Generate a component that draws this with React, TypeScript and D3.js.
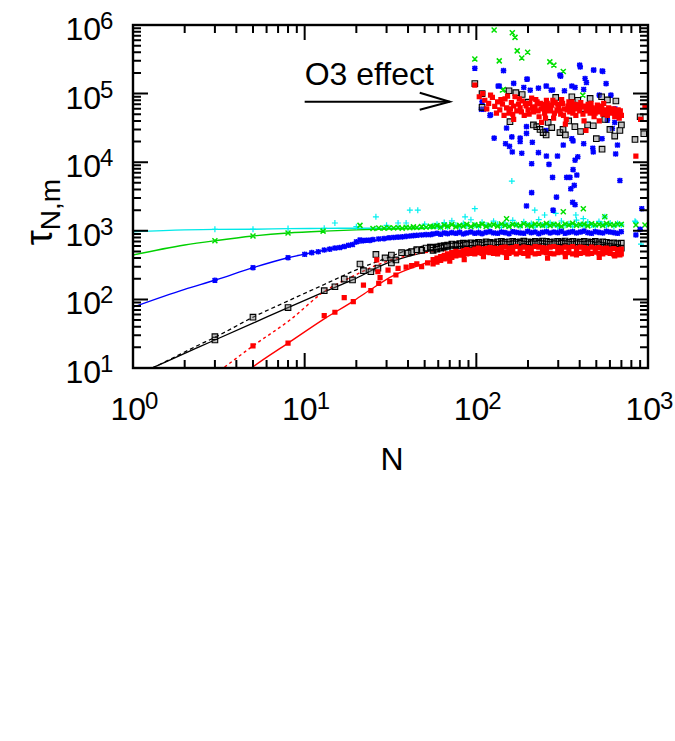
import * as d3 from 'd3'

type P = [number, number]

const xTickExps = [0, 1, 2, 3]
const yTickExps = [1, 2, 3, 4, 5, 6]

// fitted curves (N, tau)
const cyanCurve: P[] = [[1, 970], [2, 1030], [3, 1050], [5, 1055], [8, 1075], [13, 1085], [20, 1090], [40, 1095], [60, 1100]]
const greenCurve: P[] = [[1, 444], [2, 620], [3, 717], [5, 840], [8, 930], [13, 990], [20, 1030], [30, 1060], [50, 1080]]
const blueCurve: P[] = [[1, 77], [2, 140], [3, 190], [5, 290], [8, 405], [13, 520], [20, 650], [30, 760], [50, 860], [80, 910]]
const blackCurve: P[] = [[1, 7.6], [1.29, 10], [2.45, 20.5], [3, 25.6], [5, 45], [8, 76], [13, 129], [19, 192], [30, 335], [47, 470], [60, 540], [80, 590], [100, 610]]
const blackDashed: P[] = [[1, 7.6], [1.29, 10], [2.45, 22], [3, 28], [5, 55], [8, 95], [13, 165], [20, 270], [30, 400], [43, 556], [60, 640], [80, 670]]
const redCurve: P[] = [[4, 6.8], [5, 10.4], [8, 23], [13, 52], [19, 93], [24, 137], [32.6, 220], [47, 317], [60, 390], [75, 440], [100, 470]]
const redDotted: P[] = [[3, 8.1], [3.43, 10.4], [5, 21], [8.2, 50], [13, 130], [20, 230], [25, 300], [35, 400], [50, 480], [70, 520]]

// plateau band: shared N values
const bandN = [56, 59, 62, 65, 68, 72, 76, 80, 84, 88, 93, 98, 103, 108, 114, 120, 126, 133, 140, 147, 155, 163, 171, 180, 189, 199, 209, 220, 231, 243, 256, 269, 283, 298, 313, 329, 346, 364, 383, 403, 424, 446, 469, 493, 518, 545, 573, 602, 633, 665, 699]
const cyanBand = [1180, 1250, 1120, 1320, 1150, 1400, 1210, 1130, 1280, 1170, 1450, 1200, 1140, 1330, 1220, 1160, 1380, 1250, 1120, 1300, 1190, 1420, 1240, 1150, 1350, 1200, 1280, 1130, 1460, 1220, 1170, 1310, 1250, 1140, 1390, 1200, 1270, 1160, 1430, 1230, 1180, 1340, 1210, 1150, 1370, 1250, 1190, 1300, 1160, 1280, 1220]
const greenBand = [1150, 1190, 1130, 1210, 1160, 1230, 1140, 1200, 1170, 1240, 1150, 1220, 1190, 1250, 1160, 1210, 1230, 1170, 1260, 1200, 1160, 1240, 1220, 1190, 1270, 1210, 1170, 1250, 1230, 1200, 1280, 1190, 1240, 1220, 1160, 1260, 1210, 1290, 1200, 1230, 1250, 1180, 1270, 1220, 1240, 1200, 1280, 1230, 1210, 1260, 1240]
const blueBand = [900, 920, 890, 930, 910, 940, 920, 950, 900, 930, 960, 920, 940, 910, 950, 970, 930, 920, 960, 940, 910, 970, 950, 930, 920, 980, 940, 960, 910, 950, 970, 930, 960, 940, 980, 920, 950, 970, 930, 960, 990, 940, 920, 970, 950, 930, 980, 960, 940, 920, 970]
const blackBandA = [560, 580, 600, 610, 620, 640, 630, 650, 660, 650, 670, 660, 680, 670, 690, 680, 670, 690, 700, 680, 690, 700, 680, 690, 710, 690, 680, 700, 690, 710, 700, 680, 690, 700, 690, 710, 680, 700, 690, 680, 700, 690, 680, 700, 670, 690, 680, 660, 670, 650, 660]
const blackBandB = [520, 540, 560, 580, 590, 600, 610, 600, 620, 630, 620, 640, 630, 620, 640, 650, 640, 630, 650, 640, 630, 650, 640, 660, 640, 630, 650, 640, 660, 650, 640, 630, 650, 640, 660, 650, 640, 630, 650, 640, 630, 650, 640, 620, 630, 610, 600, 590, 580, 570, 560]
const redBandA = [380, 400, 420, 440, 460, 480, 500, 490, 510, 530, 520, 540, 560, 540, 550, 570, 560, 550, 570, 580, 560, 570, 590, 560, 580, 570, 560, 590, 580, 570, 560, 580, 590, 570, 560, 580, 570, 590, 560, 580, 570, 550, 580, 560, 570, 550, 560, 540, 550, 530, 540]
const redBandB = [330, 350, 370, 390, 400, 410, 430, 440, 450, 460, 470, 460, 480, 470, 490, 480, 470, 460, 490, 480, 470, 490, 460, 480, 470, 490, 480, 460, 470, 490, 480, 470, 460, 480, 490, 470, 480, 460, 490, 470, 480, 460, 470, 490, 470, 460, 480, 470, 450, 470, 460]

// individual points (N, tau)
const cyanPts: P[] = [[3, 1052], [5, 1052], [8, 1080], [13, 1090], [15, 1300], [20, 1150], [26, 1600], [30, 1200], [35, 1300], [39, 1300], [41, 2000], [45.6, 2000], [50, 1250], [86, 1600], [98, 2100], [161, 5300], [219, 2000], [250, 1700], [290, 1800], [380, 1700], [420, 1500], [560, 1600], [840, 1380], [850, 1330], [910, 640]]
const greenPts: P[] = [[3, 717], [5, 840], [8, 930], [12.8, 990], [21, 1200], [25, 1080], [27, 1100], [29, 1090], [31, 1110], [33, 1100], [35, 1120], [37, 1090], [39, 1130], [41, 1110], [43, 1140], [45, 1120], [48, 1150], [51, 1130], [54, 1160], [150, 1500], [321, 1900], [420, 2100], [560, 1600], [850, 1215], [960, 1215],
  [127, 845000], [162, 770000], [168, 660000], [173, 420000], [199, 400000], [184, 330000], [98, 320000], [136, 300000], [268, 290000], [283, 260000], [321, 210000], [144, 115000], [142, 113000], [417, 95000]]
const bluePts: P[] = [[3, 190], [5, 290], [8, 405], [10, 455], [11, 480], [12, 495], [13, 525], [14, 540], [15, 560], [16, 570], [17, 590], [18, 615], [19, 630], [20, 690], [21, 735], [22, 720], [23, 730], [24, 725], [25, 745], [27, 760], [29, 770], [31, 790], [33, 800], [35, 810], [37, 815], [39, 830], [41, 840], [43, 850], [45, 860], [48, 870], [51, 880], [54, 880], [850, 870], [900, 1050], [920, 2100]]
const blueCloud: P[] = [[98, 234000], [144, 216000], [403, 245000], [482, 220000], [541, 214000], [307, 186000], [197, 162000], [430, 166000], [438, 145000], [165, 141000], [136, 129000], [189, 123000], [206, 112000], [230, 120000], [256, 129000], [273, 112000], [326, 110000], [376, 123000], [422, 115000], [520, 95000], [608, 95000], [108, 76000], [110, 59000], [121, 49000], [643, 60000], [620, 31000],
  [127, 22400], [148, 18600], [156, 17000], [162, 14100], [184, 13500], [161, 23400], [180, 22400], [180, 20000], [196, 26300], [212, 19500], [230, 13800], [256, 12300], [297, 12300], [321, 17800], [366, 20400], [422, 18600], [480, 14100], [390, 12000], [376, 10700], [648, 13200], [664, 17800],
  [210, 9500], [265, 9300], [278, 6000], [336, 6000], [366, 7800], [372, 4600], [355, 4100], [686, 5400], [210, 3600], [293, 3100], [196, 2300], [280, 2000], [364, 2600], [376, 2400], [385, 6500], [351, 6000],
  [134, 129000], [198, 163000], [255, 129000], [278, 113000], [360, 129000], [570, 140000], [400, 260000], [483, 221000], [545, 210000], [310, 180000], [107, 59000], [120, 48000], [150, 31500], [196, 33000], [255, 29000], [360, 22000], [477, 16000], [540, 22000], [580, 41000], [640, 38000]]
const blackPts: P[] = [[3, 28.6], [3, 25.6], [5, 55], [8, 76], [13, 134], [15, 153], [17, 198], [19, 192], [21, 328], [22, 262], [24.3, 253], [26, 452], [26.7, 286], [29.4, 402], [32, 340], [32, 443], [34, 376], [36.7, 480], [40, 475], [42, 497], [45, 530], [48, 520], [51, 560], [54, 580]]
const blackCloud: P[] = [[98, 140000], [108, 100000], [108, 63000], [155, 110000], [170, 103000], [185, 97000], [157, 39000], [200, 75000], [215, 35000], [225, 33000], [235, 30000], [245, 27000], [255, 25000], [262, 38000], [275, 32000], [290, 88000], [307, 27000], [320, 30000], [330, 25000], [345, 40000], [360, 90000], [375, 33000], [390, 80000], [405, 28000], [420, 60000], [445, 35000], [460, 85000], [480, 34000], [500, 22000], [537, 90000], [540, 15500], [560, 42000], [580, 81000], [600, 30000], [650, 78000], [640, 24000], [660, 55000], [686, 29000], [700, 35000], [840, 21500], [900, 46000], [945, 26000]]
const redPts: P[] = [[5, 21], [8, 23], [13, 58], [15, 65], [17, 106], [19.2, 93], [22, 162], [24.3, 134], [26.3, 376], [26.7, 253], [27, 171], [27.5, 207], [30.6, 268], [31.3, 182], [34, 227], [35, 283], [39, 295], [42, 310], [45, 330], [48, 300], [52, 340],
  [70, 360], [85, 380], [110, 420], [150, 410], [200, 430], [260, 400], [330, 420], [383, 444], [520, 410], [640, 430], [686, 444]]
const redCloud: P[] = [[98, 133000], [109, 100000], [112, 80000], [118, 72000], [124, 88000], [128, 65000], [133, 76000], [137, 58000], [142, 70000], [147, 84000], [150, 62000], [155, 52000], [160, 74000], [165, 66000], [168, 90000], [172, 56000], [176, 70000], [180, 62000], [185, 78000], [190, 48000], [195, 66000], [200, 58000], [205, 72000], [210, 86000], [215, 54000], [220, 64000], [226, 76000], [232, 46000], [238, 60000], [244, 70000], [250, 52000], [256, 80000], [262, 62000], [268, 56000], [275, 68000], [282, 44000], [288, 74000], [295, 58000], [302, 64000], [310, 50000], [318, 72000], [326, 60000], [334, 42000], [342, 66000], [350, 54000], [360, 76000], [370, 60000], [380, 48000], [390, 68000], [400, 56000], [412, 64000], [424, 40000], [436, 58000], [448, 70000], [460, 52000], [472, 62000], [485, 46000], [500, 60000], [515, 54000], [530, 66000], [545, 50000], [560, 58000], [580, 48000], [600, 56000], [620, 52000], [640, 46000], [660, 50000], [680, 44000], [700, 48000], [165, 42000], [240, 38000], [330, 36000], [435, 29000], [520, 40000], [850, 12300], [906, 42000], [960, 66000]]
const redCloud2: P[] = [[104, 90000], [115, 60000], [121, 95000], [131, 52000], [139, 82000], [145, 48000], [152, 92000], [158, 60000], [163, 50000], [178, 84000], [183, 54000], [193, 72000], [203, 50000], [212, 62000], [222, 82000], [229, 56000], [236, 72000], [247, 62000], [253, 44000], [259, 72000], [271, 62000], [279, 80000], [285, 52000], [298, 70000], [306, 56000], [314, 82000], [322, 48000], [338, 58000], [346, 76000], [355, 64000], [365, 52000], [375, 70000], [395, 60000], [406, 74000], [418, 50000], [430, 66000], [442, 56000], [454, 62000], [466, 72000], [478, 56000], [492, 52000], [507, 68000], [522, 58000], [538, 62000], [552, 72000], [570, 54000], [590, 62000], [610, 58000], [630, 60000], [650, 54000], [670, 58000], [690, 56000]]

// annotation
const arrowFrom: P = [10, 76000]
const arrowTo: P = [70, 76000]
const noteAt: P = [10, 133000]
const noteText = 'O3 effect'

const FONT = "'Liberation Sans', Arial, Helvetica, sans-serif"
const L = 133, R = 648, T = 25, B = 368

const x = d3.scaleLog().domain([1, 1000]).range([L, R])
const y = d3.scaleLog().domain([10, 1e6]).range([B, T])

const band = (vals: number[]): P[] => bandN.map((n, i) => [n, vals[i]])

const plusPath = (d: P[], s: number) =>
  d.map(([n, t]) => { const a = x(n), b = y(t); return `M${a - s},${b}h${2 * s}M${a},${b - s}v${2 * s}` }).join('')
const crossPath = (d: P[], s: number) =>
  d.map(([n, t]) => { const a = x(n), b = y(t); return `M${a - s},${b - s}l${2 * s},${2 * s}M${a - s},${b + s}l${2 * s},${-2 * s}` }).join('')
const squarePath = (d: P[], s: number) =>
  d.map(([n, t]) => { const a = x(n), b = y(t); return `M${a - s},${b - s}h${2 * s}v${2 * s}h${-2 * s}Z` }).join('')

const line = d3.line<P>().x(d => x(d[0])).y(d => y(d[1])).curve(d3.curveMonotoneX)

function ticks() {
  const parts: string[] = []
  const maj = 15, min = 8
  for (let e = 0; e <= 3; e++) {
    for (let k = 1; k <= 9; k++) {
      if (e === 3 && k > 1) continue
      const v = k * Math.pow(10, e)
      const len = k === 1 ? maj : min
      const px = x(v)
      parts.push(`M${px},${B}v${-len}M${px},${T}v${len}`)
    }
  }
  for (let e = 1; e <= 6; e++) {
    for (let k = 1; k <= 9; k++) {
      if (e === 6 && k > 1) continue
      const v = k * Math.pow(10, e)
      const len = k === 1 ? maj : min
      const py = y(v)
      parts.push(`M${L},${py}h${len}M${R},${py}h${-len}`)
    }
  }
  return parts.join('')
}

export default function App() {
  const ax = x(arrowTo[0]), ay = y(arrowTo[1])
  const blueAll = [...bluePts, ...band(blueBand), ...blueCloud]
  return (
    <svg width={675} height={741} style={{ position: 'absolute', left: 0, top: 0, background: '#fff' }} fontFamily={FONT}>
      <defs>
        <clipPath id="plot"><rect x={L} y={T} width={R - L} height={B - T} /></clipPath>
      </defs>
      <g clipPath="url(#plot)" fill="none">
        <path d={line(cyanCurve) ?? ''} stroke="#00e8e8" strokeWidth={1.4} />
        <path d={line(greenCurve) ?? ''} stroke="#00d000" strokeWidth={1.4} />
        <path d={line(blueCurve) ?? ''} stroke="#0000ff" strokeWidth={1.4} />
        <path d={line(blackDashed) ?? ''} stroke="#000" strokeWidth={1.3} strokeDasharray="4,3" />
        <path d={line(blackCurve) ?? ''} stroke="#000" strokeWidth={1.3} />
        <path d={line(redDotted) ?? ''} stroke="#ff0000" strokeWidth={1.4} strokeDasharray="3,3" />
        <path d={line(redCurve) ?? ''} stroke="#ff0000" strokeWidth={1.4} />

        <path d={plusPath([...cyanPts, ...band(cyanBand)], 3)} stroke="#00f0f0" strokeWidth={1.2} />
        <path d={crossPath([...greenPts, ...band(greenBand)], 2.5)} stroke="#00e000" strokeWidth={1.5} />
        <path d={plusPath(blueAll, 2.8) + crossPath(blueAll, 2.3)} stroke="#0000ff" strokeWidth={1.6} />
        <path d={squarePath([...blackPts, ...band(blackBandB), ...band(blackBandA), ...blackCloud], 2.8)} stroke="#000" strokeWidth={1.1} fill="rgba(120,120,120,0.45)" />
        <path d={squarePath([...redPts, ...band(redBandB), ...band(redBandA), ...redCloud, ...redCloud2], 2.6)} fill="#ff0000" />
      </g>

      <rect x={L} y={T} width={R - L} height={B - T} fill="none" stroke="#000" strokeWidth={2.4} />
      <path d={ticks()} stroke="#000" strokeWidth={2} fill="none" />

      {yTickExps.map(e => (
        <g key={'y' + e}>
          <text x={101} y={y(Math.pow(10, e)) + 15} fontSize={32} textAnchor="end">10</text>
          <text x={100} y={y(Math.pow(10, e)) + 4} fontSize={24}>{e}</text>
        </g>
      ))}
      {xTickExps.map(e => (
        <g key={'x' + e}>
          <text x={x(Math.pow(10, e)) + 13} y={420} fontSize={32} textAnchor="end">10</text>
          <text x={x(Math.pow(10, e)) + 12} y={409} fontSize={24}>{e}</text>
        </g>
      ))}
      <text x={392} y={470} fontSize={32} textAnchor="middle">N</text>
      <g transform="translate(52,212) rotate(-90)">
        <text fontSize={38} textAnchor="middle">τ<tspan fontSize={28} dy={8}>N,m</tspan></text>
      </g>

      <text x={x(noteAt[0])} y={y(noteAt[1])} fontSize={32}>{noteText}</text>
      <line x1={x(arrowFrom[0])} y1={y(arrowFrom[1])} x2={ax} y2={ay} stroke="#000" strokeWidth={2} />
      <path d={`M${ax - 30},${ay - 9}L${ax},${ay}L${ax - 30},${ay + 8}`} stroke="#000" strokeWidth={2} fill="none" />
    </svg>
  )
}
